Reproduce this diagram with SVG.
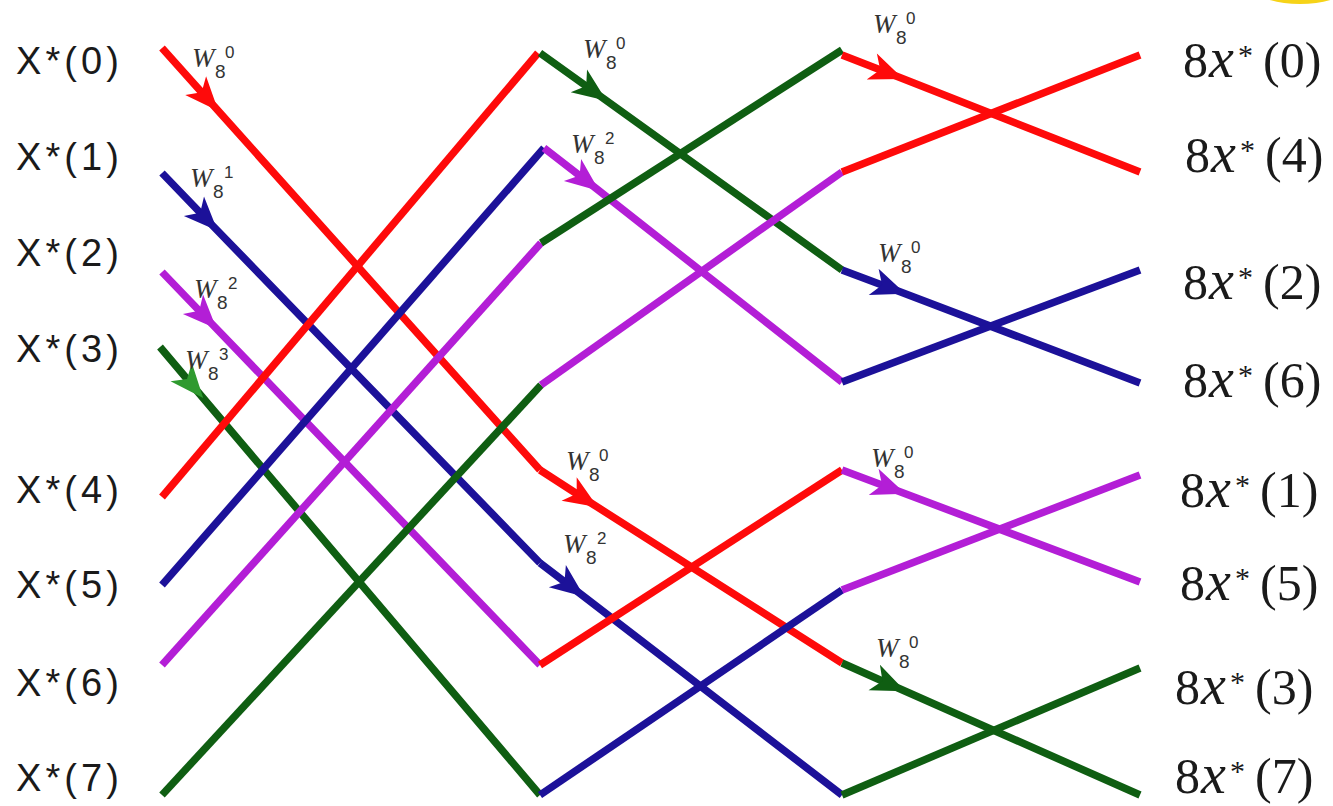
<svg xmlns="http://www.w3.org/2000/svg" width="1333" height="806" viewBox="0 0 1333 806">
<style>
.ln{fill:none;stroke-width:7.5;stroke-linecap:butt;stroke-linejoin:round}
.r{stroke:#fe0a0a}.b{stroke:#1c1199}.p{stroke:#b31ed6}.g{stroke:#0f5e12}
.in{font-family:"Liberation Sans","Open Sans",sans-serif;font-size:38px;fill:#1a1a1a}
.out{font-family:"Liberation Serif","DejaVu Serif",serif;font-size:50px;fill:#1a1a1a}
.xi{font-style:italic;font-size:56px}
.st{font-size:30px}
.w{font-family:"Liberation Serif","DejaVu Serif",serif;font-style:italic;font-size:27px;fill:#333}
.s8{font-family:"Liberation Sans","Open Sans",sans-serif;font-style:normal;font-size:19px;fill:#333}
.sp{font-family:"Liberation Sans","Open Sans",sans-serif;font-style:normal;font-size:17px;fill:#333}
</style>
<defs>
<marker id="ar" markerUnits="userSpaceOnUse" viewBox="-36 -18 46 36" markerWidth="46" markerHeight="36" refX="0" refY="0" orient="auto"><path d="M8,0 L-26,-14 L-17,0 L-26,14 Z" fill="#fe0a0a"/></marker>
<marker id="ab" markerUnits="userSpaceOnUse" viewBox="-36 -18 46 36" markerWidth="46" markerHeight="36" refX="0" refY="0" orient="auto"><path d="M8,0 L-26,-14 L-17,0 L-26,14 Z" fill="#1c1199"/></marker>
<marker id="ap" markerUnits="userSpaceOnUse" viewBox="-36 -18 46 36" markerWidth="46" markerHeight="36" refX="0" refY="0" orient="auto"><path d="M8,0 L-26,-14 L-17,0 L-26,14 Z" fill="#b31ed6"/></marker>
<marker id="ag" markerUnits="userSpaceOnUse" viewBox="-36 -18 46 36" markerWidth="46" markerHeight="36" refX="0" refY="0" orient="auto"><path d="M8,0 L-26,-14 L-17,0 L-26,14 Z" fill="#0f5e12"/></marker>
<marker id="alg" markerUnits="userSpaceOnUse" viewBox="-36 -18 46 36" markerWidth="46" markerHeight="36" refX="0" refY="0" orient="auto"><path d="M8,0 L-26,-14 L-17,0 L-26,14 Z" fill="#2f9a2f"/></marker>
</defs>
<rect width="1333" height="806" fill="#ffffff"/>
<ellipse cx="1300" cy="-20" rx="52" ry="22" fill="none" stroke="#f6d318" stroke-width="4"/>

<g id="connectors">
<!-- stage 1 -->
<path class="ln r" d="M162,48 L213,105 L540,470" marker-mid="url(#ar)"/>
<path class="ln b" d="M162,173 L212,225 L540,563" marker-mid="url(#ab)"/>
<path class="ln p" d="M162,272 L211,323 L540,665" marker-mid="url(#ap)"/>
<path class="ln g" d="M160,347 L198,392 L540,795" marker-mid="url(#alg)"/>
<path class="ln r" d="M162,497 L538,53"/>
<path class="ln b" d="M162,585 L544,148"/>
<path class="ln p" d="M162,665 L541,243"/>
<path class="ln g" d="M162,795 L541,385"/>
<!-- stage 2 -->
<path class="ln g" d="M540,53 L600,96 L842,270" marker-mid="url(#ag)"/>
<path class="ln p" d="M544,148 L593,186 L842,382" marker-mid="url(#ap)"/>
<path class="ln r" d="M540,470 L591,503 L842,663" marker-mid="url(#ar)"/>
<path class="ln b" d="M540,563 L578,592 L842,795" marker-mid="url(#ab)"/>
<path class="ln g" d="M541,243 L842,50"/>
<path class="ln p" d="M541,385 L842,172"/>
<path class="ln r" d="M540,665 L842,470"/>
<path class="ln b" d="M540,795 L842,590"/>
<!-- stage 3 -->
<path class="ln r" d="M842,55 L896,76 L1140,172" marker-mid="url(#ar)"/>
<path class="ln b" d="M842,270 L898,291 L1140,383" marker-mid="url(#ab)"/>
<path class="ln p" d="M842,470 L898,491 L1140,582" marker-mid="url(#ap)"/>
<path class="ln g" d="M842,663 L898,688 L1140,795" marker-mid="url(#ag)"/>
<path class="ln r" d="M842,172 L1140,55"/>
<path class="ln b" d="M842,382 L1140,270"/>
<path class="ln p" d="M842,590 L1140,475"/>
<path class="ln g" d="M842,795 L1140,668"/>
</g>

<g id="inputs">
<g id="in0"><text class="in" x="16" y="74" textLength="103" lengthAdjust="spacing">X*(0)</text></g>
<g id="in1"><text class="in" x="16" y="170" textLength="103" lengthAdjust="spacing">X*(1)</text></g>
<g id="in2"><text class="in" x="16" y="266" textLength="103" lengthAdjust="spacing">X*(2)</text></g>
<g id="in3"><text class="in" x="16" y="362" textLength="103" lengthAdjust="spacing">X*(3)</text></g>
<g id="in4"><text class="in" x="16" y="503" textLength="103" lengthAdjust="spacing">X*(4)</text></g>
<g id="in5"><text class="in" x="16" y="598" textLength="103" lengthAdjust="spacing">X*(5)</text></g>
<g id="in6"><text class="in" x="16" y="696" textLength="103" lengthAdjust="spacing">X*(6)</text></g>
<g id="in7"><text class="in" x="16" y="791" textLength="103" lengthAdjust="spacing">X*(7)</text></g>
</g>

<g id="outputs">
<g id="out0"><text class="out" y="77"><tspan x="1183">8</tspan><tspan class="xi" x="1209">x</tspan><tspan class="st" x="1238" dy="-12">*</tspan><tspan x="1263" dy="12">(0)</tspan></text></g>
<g id="out4"><text class="out" y="172"><tspan x="1185">8</tspan><tspan class="xi" x="1211">x</tspan><tspan class="st" x="1240" dy="-12">*</tspan><tspan x="1265" dy="12">(4)</tspan></text></g>
<g id="out2"><text class="out" y="299"><tspan x="1183">8</tspan><tspan class="xi" x="1209">x</tspan><tspan class="st" x="1238" dy="-12">*</tspan><tspan x="1263" dy="12">(2)</tspan></text></g>
<g id="out6"><text class="out" y="397"><tspan x="1183">8</tspan><tspan class="xi" x="1209">x</tspan><tspan class="st" x="1238" dy="-12">*</tspan><tspan x="1263" dy="12">(6)</tspan></text></g>
<g id="out1"><text class="out" y="507"><tspan x="1180">8</tspan><tspan class="xi" x="1206">x</tspan><tspan class="st" x="1235" dy="-12">*</tspan><tspan x="1260" dy="12">(1)</tspan></text></g>
<g id="out5"><text class="out" y="600"><tspan x="1180">8</tspan><tspan class="xi" x="1206">x</tspan><tspan class="st" x="1235" dy="-12">*</tspan><tspan x="1260" dy="12">(5)</tspan></text></g>
<g id="out3"><text class="out" y="704"><tspan x="1175">8</tspan><tspan class="xi" x="1201">x</tspan><tspan class="st" x="1230" dy="-12">*</tspan><tspan x="1255" dy="12">(3)</tspan></text></g>
<g id="out7"><text class="out" y="793"><tspan x="1175">8</tspan><tspan class="xi" x="1201">x</tspan><tspan class="st" x="1230" dy="-12">*</tspan><tspan x="1255" dy="12">(7)</tspan></text></g>
</g>

<g id="weights">
<text class="w" x="192" y="67">W<tspan class="s8" x="215" y="78">8</tspan><tspan class="sp" x="225" y="58">0</tspan></text>
<text class="w" x="190" y="187">W<tspan class="s8" x="213" y="198">8</tspan><tspan class="sp" x="224" y="178">1</tspan></text>
<text class="w" x="194" y="298">W<tspan class="s8" x="217" y="309">8</tspan><tspan class="sp" x="228" y="289">2</tspan></text>
<text class="w" x="185" y="369">W<tspan class="s8" x="208" y="380">8</tspan><tspan class="sp" x="219" y="360">3</tspan></text>
<text class="w" x="583" y="58">W<tspan class="s8" x="606" y="69">8</tspan><tspan class="sp" x="616" y="49">0</tspan></text>
<text class="w" x="571" y="153">W<tspan class="s8" x="594" y="164">8</tspan><tspan class="sp" x="605" y="144">2</tspan></text>
<text class="w" x="566" y="470">W<tspan class="s8" x="589" y="481">8</tspan><tspan class="sp" x="599" y="461">0</tspan></text>
<text class="w" x="563" y="553">W<tspan class="s8" x="586" y="564">8</tspan><tspan class="sp" x="597" y="544">2</tspan></text>
<text class="w" x="873" y="33">W<tspan class="s8" x="896" y="44">8</tspan><tspan class="sp" x="906" y="24">0</tspan></text>
<text class="w" x="878" y="262">W<tspan class="s8" x="901" y="273">8</tspan><tspan class="sp" x="911" y="253">0</tspan></text>
<text class="w" x="871" y="467">W<tspan class="s8" x="894" y="478">8</tspan><tspan class="sp" x="904" y="458">0</tspan></text>
<text class="w" x="876" y="657">W<tspan class="s8" x="899" y="668">8</tspan><tspan class="sp" x="909" y="648">0</tspan></text>
</g>
</svg>
